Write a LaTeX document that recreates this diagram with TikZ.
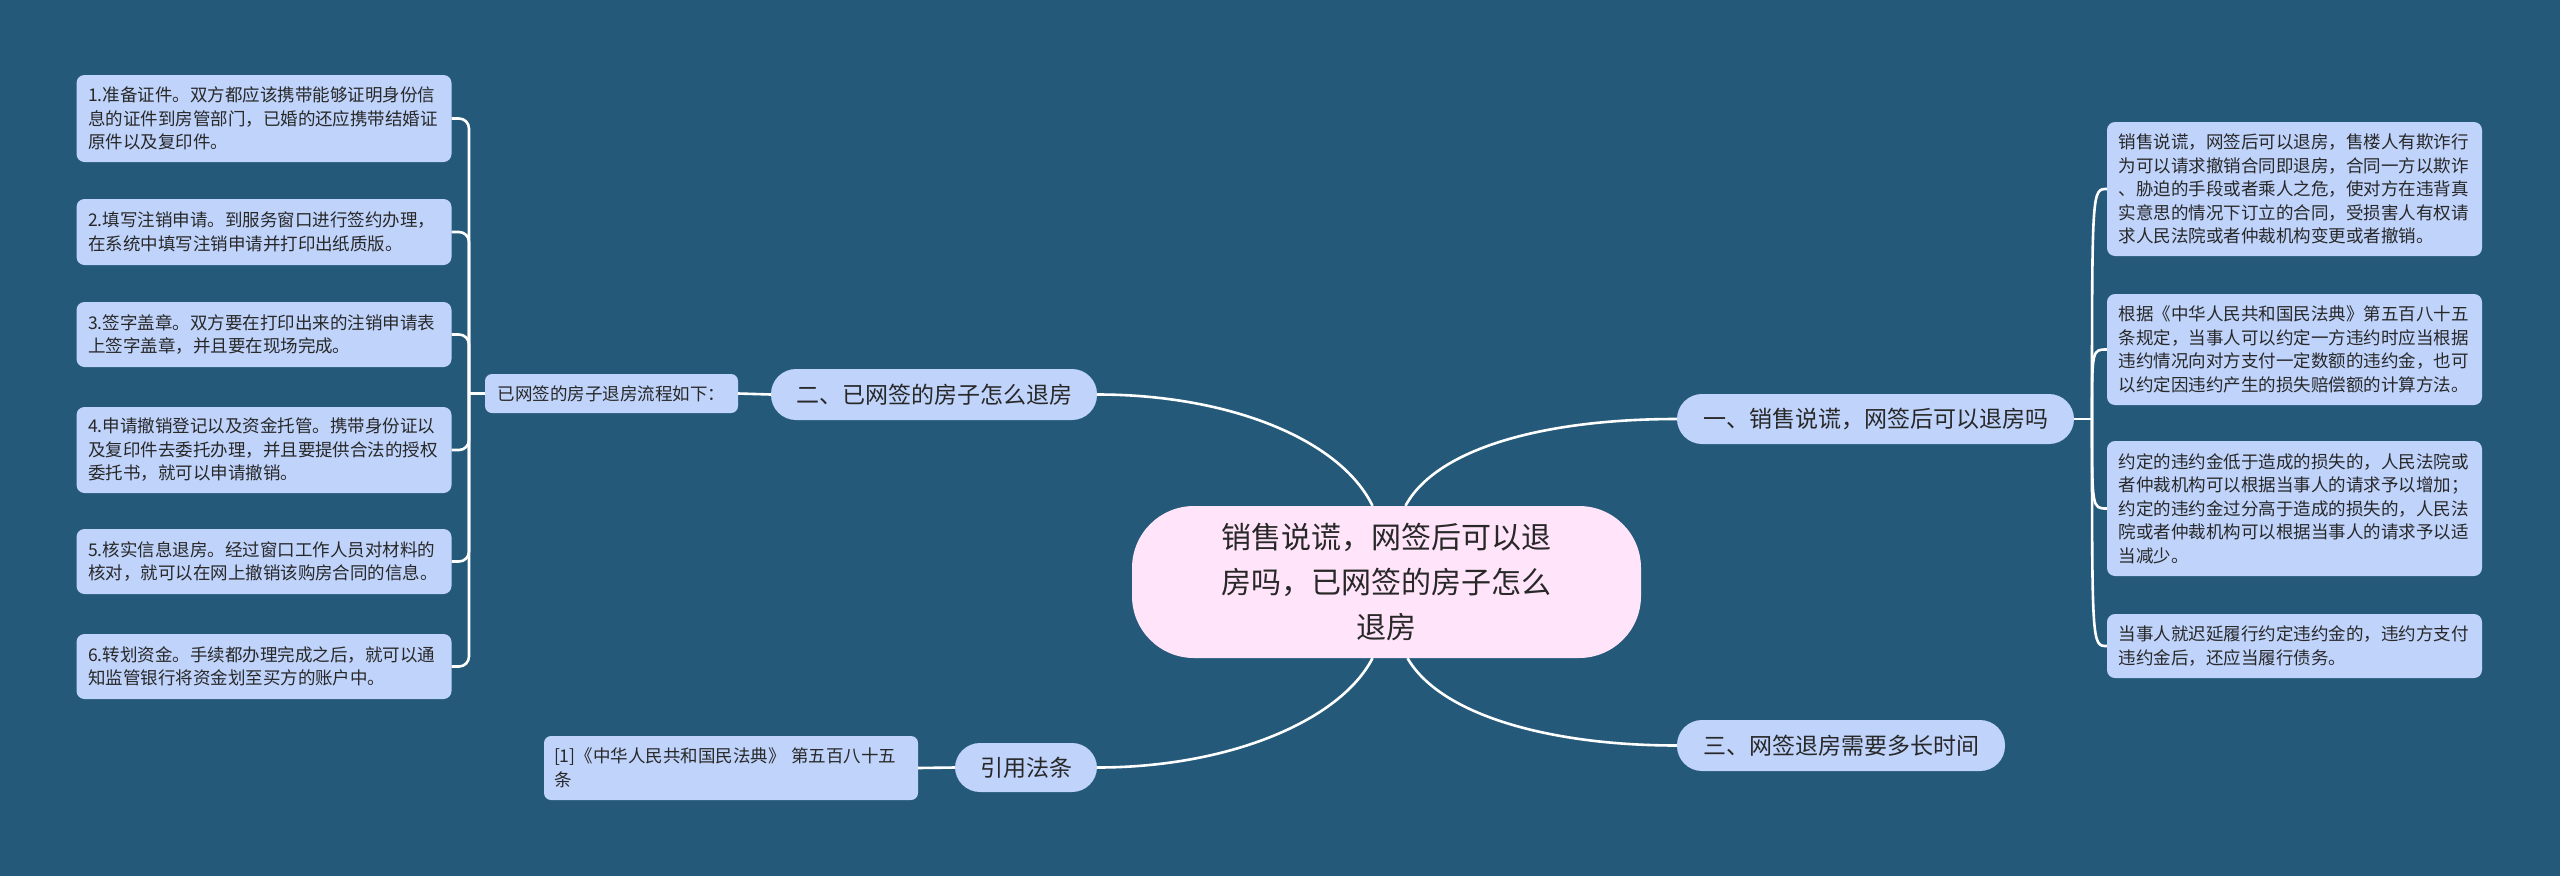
\documentclass[tikz,border=0pt]{standalone}
\usepackage{fontspec}
\setmainfont{Noto Sans CJK SC}
\definecolor{bg}{RGB}{36,89,122}
\definecolor{nodeblue}{RGB}{191,211,251}
\definecolor{centerpink}{RGB}{255,228,250}
\definecolor{txt}{RGB}{40,40,40}
\tikzset{
  conn/.style={draw=white, line width=2.6pt},
  leafbox/.style={fill=nodeblue, rounded corners=8pt, text=txt, text width=352pt,
    inner xsep=11.5pt, inner ysep=0pt, align=left,
    font=\fontsize{17.5}{23.5}\selectfont},
  smallbox/.style={fill=nodeblue, rounded corners=7pt, text=txt, inner xsep=10pt, inner ysep=0pt,
    align=left, font=\fontsize{17.5}{23.5}\selectfont},
  branch/.style={fill=nodeblue, rounded corners=25pt, text=txt, inner sep=0pt,
    font=\fontsize{23}{28}\selectfont},
  centerbox/.style={fill=centerpink, rounded corners=62pt, text=txt, inner sep=0pt,
    align=center, font=\fontsize{30}{45}\selectfont,
    minimum width=509pt, minimum height=152pt},
}
\begin{document}
\begin{tikzpicture}[x=1pt,y=-1pt]
\fill[bg] (0,0) rectangle (2560,876);
\useasboundingbox (0,0) rectangle (2560,876);

% center
\node[centerbox] (C) at (1386.5,582) {销售说谎，网签后可以退\\房吗，已网签的房子怎么\\退房};

% branches
\node[branch, minimum width=397pt, minimum height=50pt] (B1) at (1875.5,419) {一、销售说谎，网签后可以退房吗};
\node[branch, minimum width=328pt, minimum height=51pt] (B3) at (1841,745.5) {三、网签退房需要多长时间};
\node[branch, minimum width=326pt, minimum height=51pt] (B2) at (934,394.5) {二、已网签的房子怎么退房};
\node[branch, minimum width=142pt, minimum height=49pt] (B4) at (1026,767.5) {引用法条};

% left sub nodes
\node[smallbox, minimum width=253pt, minimum height=39pt] (P) at (611.5,393.5) {已网签的房子退房流程如下：};
\node[smallbox, text width=354pt, minimum height=64pt] (Ref) at (731,768) {[1]《中华人民共和国民法典》 第五百八十五\\条};

% left leaves
\node[leafbox, minimum height=87pt] (L1) at (264,118.5) {1.准备证件。双方都应该携带能够证明身份信\\息的证件到房管部门，已婚的还应携带结婚证\\原件以及复印件。};
\node[leafbox, minimum height=66pt] (L2) at (264,232) {2.填写注销申请。到服务窗口进行签约办理，\\在系统中填写注销申请并打印出纸质版。};
\node[leafbox, minimum height=65pt] (L3) at (264,334.5) {3.签字盖章。双方要在打印出来的注销申请表\\上签字盖章，并且要在现场完成。};
\node[leafbox, minimum height=86pt] (L4) at (264,450) {4.申请撤销登记以及资金托管。携带身份证以\\及复印件去委托办理，并且要提供合法的授权\\委托书，就可以申请撤销。};
\node[leafbox, minimum height=65pt] (L5) at (264,561.5) {5.核实信息退房。经过窗口工作人员对材料的\\核对，就可以在网上撤销该购房合同的信息。};
\node[leafbox, minimum height=65pt] (L6) at (264,666.5) {6.转划资金。手续都办理完成之后，就可以通\\知监管银行将资金划至买方的账户中。};

% right leaves
\node[leafbox, minimum height=134pt] (R1) at (2294.5,189) {销售说谎，网签后可以退房，售楼人有欺诈行\\为可以请求撤销合同即退房，合同一方以欺诈\\、胁迫的手段或者乘人之危，使对方在违背真\\实意思的情况下订立的合同，受损害人有权请\\求人民法院或者仲裁机构变更或者撤销。};
\node[leafbox, minimum height=111pt] (R2) at (2294.5,349.5) {根据《中华人民共和国民法典》第五百八十五\\条规定，当事人可以约定一方违约时应当根据\\违约情况向对方支付一定数额的违约金，也可\\以约定因违约产生的损失赔偿额的计算方法。};
\node[leafbox, minimum height=135pt] (R3) at (2294.5,508.5) {约定的违约金低于造成的损失的，人民法院或\\者仲裁机构可以根据当事人的请求予以增加；\\约定的违约金过分高于造成的损失的，人民法\\院或者仲裁机构可以根据当事人的请求予以适\\当减少。};
\node[leafbox, minimum height=64pt] (R4) at (2294.5,646) {当事人就迟延履行约定违约金的，违约方支付\\违约金后，还应当履行债务。};

% junction coordinates
\coordinate (lj) at (469,393.5);
\coordinate (rj) at (2092,419);

% center connectors
\draw[conn] ([xshift=-14pt]C.north) .. controls +(-32,-66) and (1230,394.5) .. (B2.east);
\draw[conn] ([xshift=19pt]C.north) .. controls +(30,-56) and (1540,419) .. (B1.west);
\draw[conn] ([xshift=-14pt]C.south) .. controls +(-32,62) and (1230,767.5) .. (B4.east);
\draw[conn] ([xshift=21pt]C.south) .. controls +(33,57) and (1550,745.5) .. (B3.west);

% branch to sub
\draw[conn] (B2.west) -- (P.east);
\draw[conn] (B4.west) -- (Ref.east);

% left bracket
\draw[conn] (P.west) -- (lj);
\foreach \n in {L1,L2,L3,L4,L5,L6}{
  \draw[conn, rounded corners=10pt] (\n.east) -- (\n.east -| lj) -- (lj);
}

% right brace
\draw[conn] (B1.east) -- (rj);
\foreach \n in {R1,R2,R3,R4}{
  \draw[conn] (rj) .. controls (rj |- \n.west) .. (\n.west);
}
\end{tikzpicture}
\end{document}
